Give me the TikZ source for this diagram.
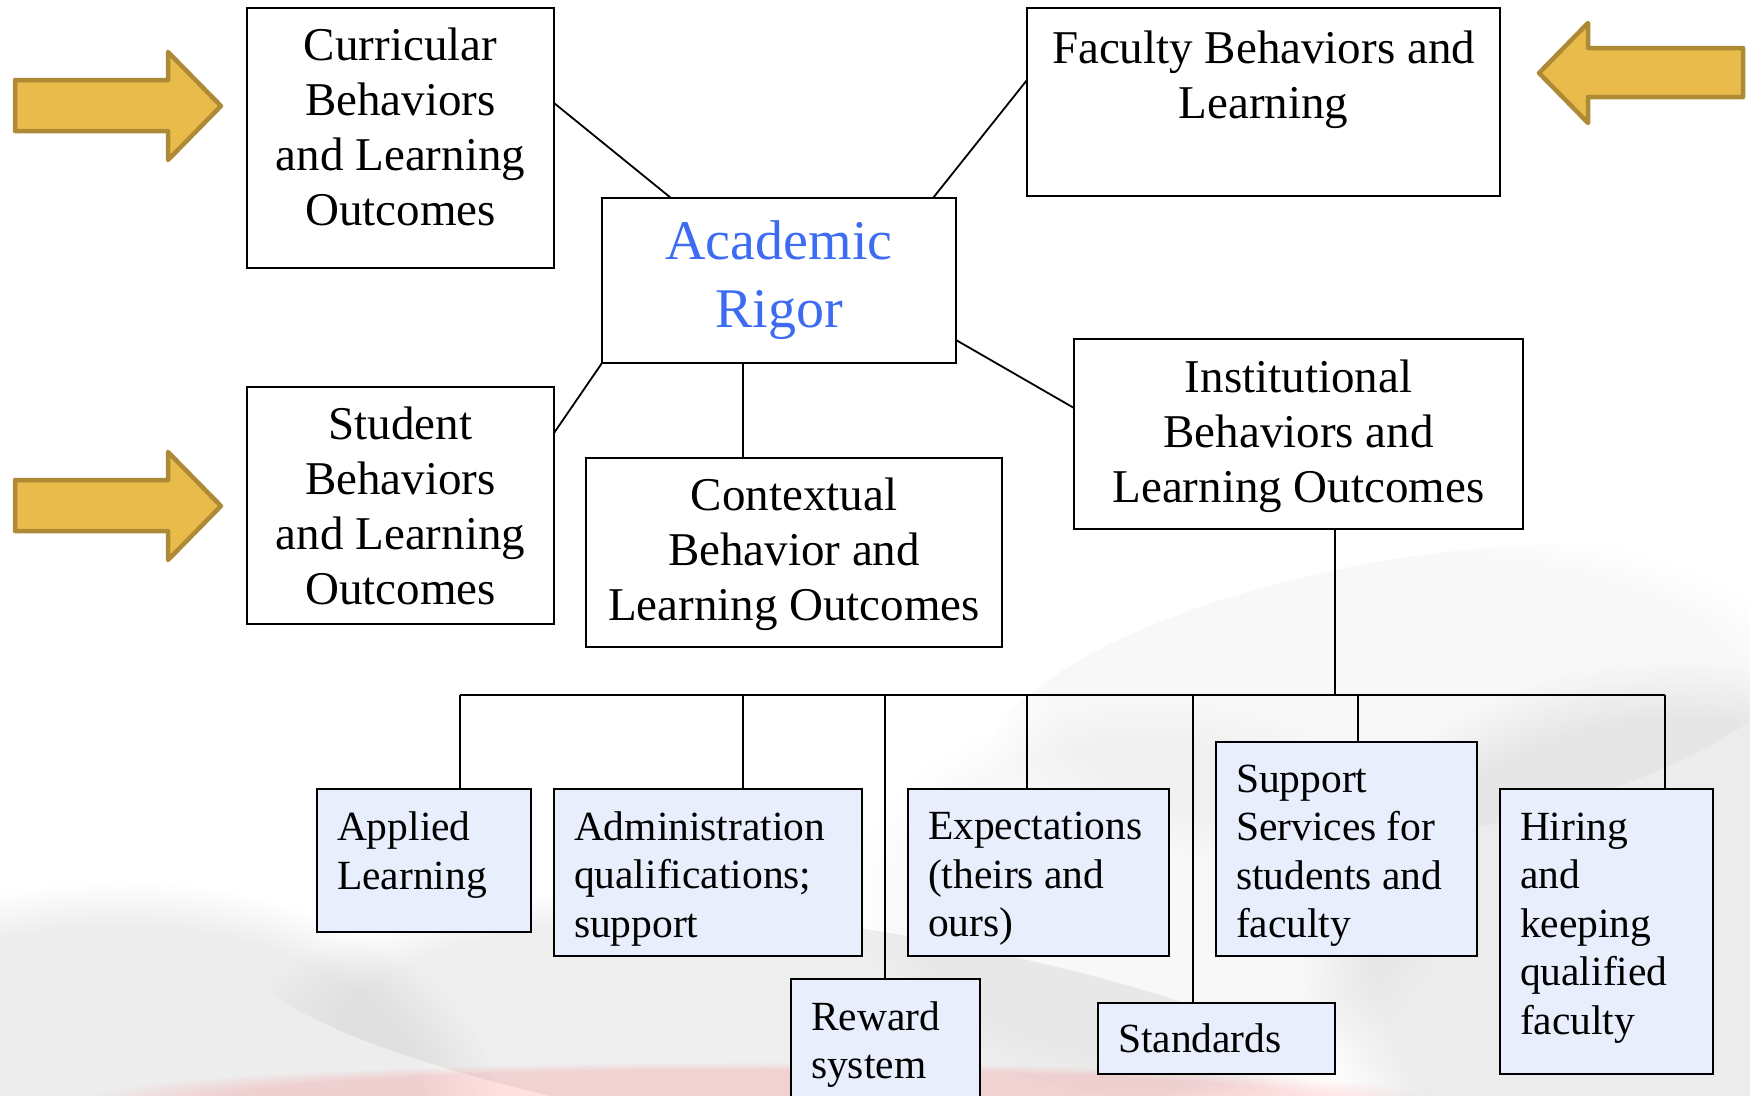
\documentclass[tikz,border=0pt]{standalone}
\usepackage{fontspec}
\setmainfont{Liberation Serif}
\usetikzlibrary{fadings}
\definecolor{arrowfill}{HTML}{E8BB4B}
\definecolor{arrowedge}{HTML}{AE8A37}
\definecolor{rigorblue}{HTML}{3D6CF2}
\definecolor{boxblue}{HTML}{E8EEFC}
\newcommand{\topstrut}[1]{\rule{0pt}{#1}}
\newcommand{\botstrut}[1]{\rule[-#1]{0pt}{0pt}}
\begin{document}
\begin{tikzpicture}[x=1pt,y=-1pt,
  topbox/.style={draw=black, line width=2.2pt, fill=white, inner sep=0pt,
    outer sep=0pt, anchor=north west, align=center,
    font=\fontsize{47}{55}\selectfont},
  subbox/.style={draw=black, line width=2.2pt, fill=boxblue, inner xsep=20pt,
    inner ysep=0pt, outer sep=0pt, anchor=north west, align=flush left,
    font=\fontsize{41.5}{48.5}\selectfont},
  link/.style={line width=1.8pt},
  bigarrow/.style={fill=arrowfill, draw=arrowedge, line width=4.5pt, line join=round},
  haze/.style={path fading=circle with fuzzy edge 20 percent}]

\useasboundingbox (0,0) rectangle (1750,1095);

% soft page-curl backdrop
\begin{scope}
  \clip (0,0) rectangle (1750,1095);
  \fill[gray, opacity=0.14, haze] (120,1110) ellipse (380pt and 230pt);
  \fill[gray, opacity=0.13, haze, rotate around={-8:(800,1030)}] (800,1030) ellipse (560pt and 110pt);
  \fill[gray, opacity=0.15, haze] (1680,960) ellipse (380pt and 300pt);
  \fill[gray, opacity=0.06, haze, rotate around={10:(1400,700)}] (1400,700) ellipse (420pt and 140pt);
  \fill[gray, opacity=0.06, haze] (1150,900) ellipse (300pt and 200pt);
  \fill[red!75!pink, opacity=0.15, haze] (760,1100) ellipse (680pt and 38pt);
\end{scope}

% incoming arrows
\draw[bigarrow] (15,80) -- (168,80) -- (168,52) -- (221,106) -- (168,160) -- (168,131) -- (15,131) -- cycle;
\draw[bigarrow] (15,480) -- (168,480) -- (168,452) -- (221,506) -- (168,560) -- (168,531) -- (15,531) -- cycle;
\draw[bigarrow] (1743,48) -- (1588,48) -- (1588,23) -- (1539,73) -- (1588,123) -- (1588,97) -- (1743,97) -- cycle;

% upper boxes
\node[topbox, minimum width=307pt, minimum height=260pt] (cur) at (247,8)
  {Curricular\\Behaviors\\and Learning\\Outcomes\\[-33pt]\mbox{}};
\node[topbox, minimum width=473pt, minimum height=188pt] (fac) at (1027,8)
  {Faculty Behaviors and\\Learning\\\mbox{}};
\node[topbox, minimum width=354pt, minimum height=165pt, text=rigorblue,
  font=\fontsize{56}{68}\selectfont] (acad) at (602,198) {Academic\\Rigor};
\node[topbox, minimum width=307pt, minimum height=237pt] (stu) at (247,387)
  {Student\\Behaviors\\and Learning\\Outcomes};
\node[topbox, minimum width=416pt, minimum height=189pt] (ctx) at (586,458)
  {Contextual\\Behavior and\\Learning Outcomes\\[-49pt]\mbox{}};
\node[topbox, minimum width=449pt, minimum height=190pt] (inst) at (1074,339)
  {Institutional\\Behaviors and\\Learning Outcomes\\[-49pt]\mbox{}};

% links to the centre
\draw[link] ([yshift=-95pt]cur.north east) -- ([xshift=69pt]acad.north west);
\draw[link] ([yshift=-72pt]fac.north west) -- ([xshift=-23pt]acad.north east);
\draw[link] ([yshift=-46pt]stu.north east) -- (acad.south west);
\draw[link] ([xshift=141pt]acad.south west) coordinate (a1) -- (a1 |- ctx.north);
\draw[link] ([yshift=23pt]acad.south east) -- ([yshift=-69pt]inst.north west);

% institutional sub-items
\node[subbox, text width=174pt, minimum height=143pt] (app) at (317,789)
  {Applied\\Learning\botstrut{20pt}};
\node[subbox, text width=268pt, minimum height=167pt] (adm) at (554,789)
  {\topstrut{41pt}Administration\\qualifications;\\support};
\node[subbox, text width=149pt, minimum height=120pt] (rew) at (791,979)
  {\topstrut{39.5pt}Reward\\system};
\node[subbox, text width=221pt, minimum height=167pt] (exp) at (908,789)
  {\topstrut{40.5pt}Expectations\\(theirs and\\ours)};
\node[subbox, text width=197pt, minimum height=71pt] (std) at (1098,1003) {Standards};
\node[subbox, text width=221pt, minimum height=214pt] (sup) at (1216,742)
  {\topstrut{41pt}Support\\Services for\\students and\\faculty};
\node[subbox, text width=173pt, minimum height=285pt] (hir) at (1500,789)
  {Hiring\\and\\keeping\\qualified\\faculty\botstrut{16pt}};

% branching bus
\coordinate (bL) at (460,695);
\coordinate (bR) at (1665,695);
\coordinate (d2) at (743,695);
\coordinate (d3) at (885,695);
\coordinate (d4) at (1027,695);
\coordinate (d5) at (1193,695);
\coordinate (d6) at (1358,695);
\draw[link] ([xshift=261pt]inst.south west) coordinate (i1) -- (i1 |- bL);
\draw[link, line width=2.2pt] (bL) -- (bR);
\draw[link] (bL) -- (bL |- app.north);
\draw[link] (d2) -- (d2 |- adm.north);
\draw[link] (d3) -- (d3 |- rew.north);
\draw[link] (d4) -- (d4 |- exp.north);
\draw[link] (d5) -- (d5 |- std.north);
\draw[link] (d6) -- (d6 |- sup.north);
\draw[link] (bR) -- (bR |- hir.north);
\end{tikzpicture}
\end{document}
